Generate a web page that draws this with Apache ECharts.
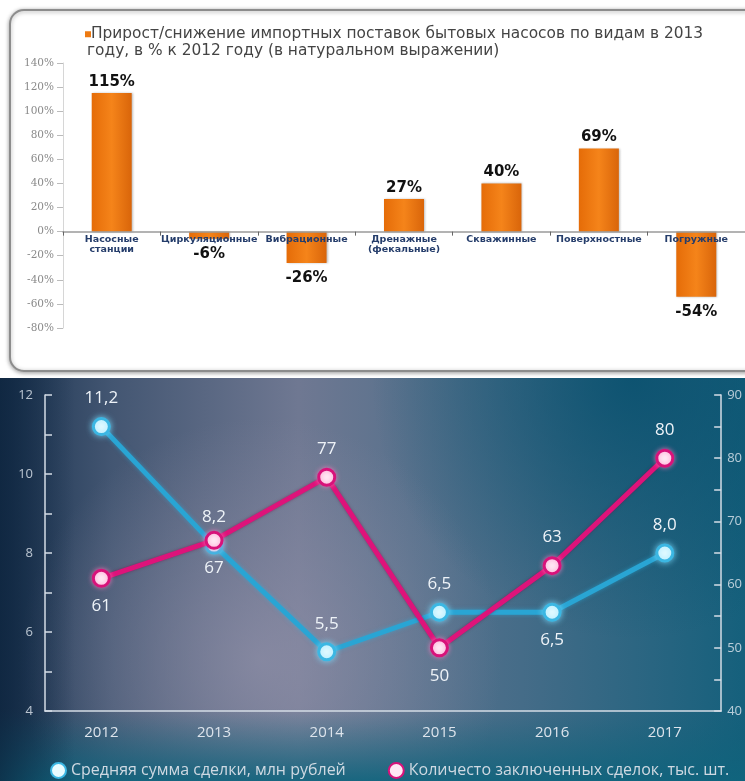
<!DOCTYPE html>
<html>
<head>
<meta charset="utf-8">
<script src="https://cdn.jsdelivr.net/npm/echarts@6/dist/echarts.min.js"></script>
<style>
  html, body { margin: 0; padding: 0; background: #fff; }
  #bar { position: absolute; left: 0; top: 0; width: 745px; height: 378px; }
  #line { position: absolute; left: 0; top: 378px; width: 745px; height: 403px; }
</style>
</head>
<body>
<div id="bar"></div>
<div id="line"></div>
<script>
// --- top chart data ---
var barTitle = 'Прирост/снижение импортных поставок бытовых насосов по видам в 2013\nгоду, в % к 2012 году (в натуральном выражении)';
var barCategories = ['Насосные\nстанции', 'Циркуляционные', 'Вибрационные', 'Дренажные\n(фекальные)', 'Скважинные', 'Поверхностные', 'Погружные'];
var barValues = [115, -6, -26, 27, 40, 69, -54];

// --- bottom chart data ---
var years = ['2012', '2013', '2014', '2015', '2016', '2017'];
var avgDealName = 'Средняя сумма сделки, млн рублей';
var avgDeal = [11.2, 8.2, 5.5, 6.5, 6.5, 8.0];
var dealCountName = 'Количесто заключенных сделок, тыс. шт.';
var dealCount = [61, 67, 77, 50, 63, 80];

// label placement (above/below point)
var avgDealPos = ['top', 'top', 'top', 'top', 'bottom', 'top'];
var dealCountPos = ['bottom', 'bottom', 'top', 'bottom', 'top', 'top'];

function initBar() {
  var myChart = echarts.init(document.getElementById('bar'));
  var option = {
    backgroundColor: '#fff',
    animation: false,
    graphic: [{
      type: 'rect',
      z: -10,
      shape: { x: 10, y: 10, width: 770, height: 361, r: 14 },
      style: { fill: '#fff', stroke: '#8c8c8c', lineWidth: 2, shadowBlur: 4, shadowColor: 'rgba(0,0,0,0.35)', shadowOffsetY: 1 }
    }],
    title: {
      left: 80,
      top: 21,
      text: '{sq|}' + barTitle.replace('\n', '\n{pad|}'),
      textStyle: {
        fontFamily: 'DejaVu Sans',
        fontSize: 15.4,
        fontWeight: 'normal',
        color: '#444',
        lineHeight: 16.5,
        rich: {
          sq: { width: 6, height: 6, backgroundColor: '#ee7a12', padding: 0 },
          pad: { width: 2 }
        }
      }
    },
    grid: { left: 63, top: 63, width: 691, height: 265 },
    xAxis: {
      type: 'category',
      data: barCategories,
      z: 5,
      axisLine: { onZero: true, lineStyle: { color: '#9a9a9a', width: 1.5 } },
      axisTick: { show: true, length: 4, lineStyle: { color: '#666' } },
      axisLabel: {
        interval: 0,
        margin: -93,
        fontFamily: 'DejaVu Sans',
        fontWeight: 'bold',
        fontSize: 9.5,
        lineHeight: 10,
        color: '#253d6b'
      }
    },
    yAxis: {
      type: 'value',
      min: -80,
      max: 140,
      interval: 20,
      splitLine: { show: false },
      axisLine: { show: true, lineStyle: { color: '#d6d6d6' } },
      axisTick: { show: true, length: 6, lineStyle: { color: '#bbb' } },
      axisLabel: {
        margin: 9,
        fontFamily: 'DejaVu Serif',
        fontSize: 10.5,
        color: '#8a8a8a',
        formatter: function (v) { return v + '%'; }
      }
    },
    series: [{
      name: 'bar',
      type: 'bar',
      barWidth: 40,
      itemStyle: {
        color: new echarts.graphic.LinearGradient(0, 0, 1, 0, [
          { offset: 0, color: '#e56c08' },
          { offset: 0.5, color: '#f5841a' },
          { offset: 1, color: '#d9650a' }
        ]),
        shadowBlur: 2,
        shadowColor: 'rgba(0,0,0,0.25)',
        shadowOffsetX: 1
      },
      data: barValues.map(function (v) {
        return {
          value: v,
          label: { position: v < 0 ? 'bottom' : 'top', distance: v < 0 ? 8 : 4 }
        };
      }),
      label: {
        show: true,
        fontFamily: 'DejaVu Sans',
        fontWeight: 'bold',
        fontSize: 15,
        color: '#111',
        formatter: function (p) { return p.value + '%'; }
      }
    }]
  };
  option && myChart.setOption(option);
}

function initLine() {
  var myChart = echarts.init(document.getElementById('line'));
  var W = 745, H = 403;
  var option = {
    animation: false,
    graphic: [
      {
        type: 'rect', z: -10, silent: true,
        shape: { x: 0, y: 0, width: W, height: H },
        style: {
          fill: new echarts.graphic.LinearGradient(0, 0, 1, 0, [
            { offset: 0, color: '#1a3350' },
            { offset: 0.15, color: '#435672' },
            { offset: 0.4, color: '#6f7892' },
            { offset: 0.7, color: '#456c88' },
            { offset: 1, color: '#15607c' }
          ])
        }
      },
      {
        type: 'rect', z: -9, silent: true,
        shape: { x: 0, y: 0, width: W, height: H },
        style: {
          fill: new echarts.graphic.RadialGradient(0.35, 0.7, 0.6, [
            { offset: 0, color: 'rgba(150,148,172,0.65)' },
            { offset: 1, color: 'rgba(150,148,172,0)' }
          ])
        }
      },
      {
        type: 'rect', z: -8, silent: true,
        shape: { x: 0, y: 0, width: W, height: H },
        style: {
          fill: new echarts.graphic.RadialGradient(0.85, 0.0, 0.65, [
            { offset: 0, color: 'rgba(8,80,110,0.85)' },
            { offset: 1, color: 'rgba(8,80,110,0)' }
          ])
        }
      },
      {
        type: 'rect', z: -7, silent: true,
        shape: { x: 0, y: 0, width: W, height: H },
        style: {
          fill: new echarts.graphic.LinearGradient(0, 0, 0, 1, [
            { offset: 0, color: 'rgba(15,95,120,0)' },
            { offset: 0.82, color: 'rgba(15,95,120,0)' },
            { offset: 1, color: 'rgba(15,100,125,0.9)' }
          ])
        }
      },
      {
        type: 'rect', z: -6, silent: true,
        shape: { x: 0, y: 0, width: W, height: H },
        style: {
          fill: new echarts.graphic.LinearGradient(0, 0, 1, 0, [
            { offset: 0, color: 'rgba(12,35,60,0.7)' },
            { offset: 0.1, color: 'rgba(12,35,60,0)' }
          ])
        }
      }
    ],
    legend: {
      top: 379,
      left: 45,
      itemGap: 42,
      itemWidth: 15,
      itemHeight: 15,
      icon: 'circle',
      textStyle: { color: '#cfd9e2', fontFamily: 'Open Sans', fontSize: 16 },
      data: [avgDealName, dealCountName]
    },
    grid: { left: 45, top: 17, width: 678, height: 316 },
    xAxis: {
      type: 'category',
      data: years,
      axisLine: { lineStyle: { color: '#d5dde6', width: 1.5 } },
      axisTick: { inside: true, length: 8, lineStyle: { color: '#d5dde6', width: 1.5 } },
      axisLabel: { margin: 14, color: '#dde4ec', fontFamily: 'Open Sans', fontSize: 15 }
    },
    yAxis: [
      {
        type: 'value',
        min: 4,
        max: 12,
        interval: 2,
        splitLine: { show: false },
        axisLine: { show: true, lineStyle: { color: '#d5dde6', width: 1.5 } },
        axisTick: { show: true, inside: true, length: 7, lineStyle: { color: '#d5dde6', width: 1.5 } },
        minorTick: { show: true, splitNumber: 2, length: 7, lineStyle: { color: '#d5dde6', width: 1.5 } },
        axisLabel: { margin: 12, color: 'rgba(225,232,240,0.8)', fontFamily: 'Open Sans', fontSize: 13 }
      },
      {
        type: 'value',
        min: 40,
        max: 90,
        interval: 10,
        position: 'right',
        splitLine: { show: false },
        axisLine: { show: true, lineStyle: { color: '#d5dde6', width: 1.5 } },
        axisTick: { show: true, inside: true, length: 7, lineStyle: { color: '#d5dde6', width: 1.5 } },
        minorTick: { show: true, splitNumber: 2, length: 7, lineStyle: { color: '#d5dde6', width: 1.5 } },
        axisLabel: { margin: 6, color: 'rgba(225,232,240,0.8)', fontFamily: 'Open Sans', fontSize: 13 }
      }
    ],
    series: [
      {
        name: avgDealName,
        type: 'line',
        yAxisIndex: 0,
        z: 3,
        symbol: 'circle',
        symbolSize: 16,
        lineStyle: { color: '#29a5d4', width: 5, shadowBlur: 4, shadowColor: 'rgba(40,180,230,0.5)' },
        itemStyle: { color: '#e9fcff', borderColor: '#3bb7e3', borderWidth: 3, shadowBlur: 6, shadowColor: 'rgba(120,220,255,0.8)' },
        label: {
          show: true,
          distance: 10,
          color: '#eef3f8',
          fontFamily: 'Open Sans',
          fontSize: 17,
          formatter: function (p) { return p.value.toFixed(1).replace('.', ','); }
        },
        data: avgDeal.map(function (v, i) { return { value: v, label: { position: avgDealPos[i] } }; })
      },
      {
        name: dealCountName,
        type: 'line',
        yAxisIndex: 1,
        z: 4,
        symbol: 'circle',
        symbolSize: 16,
        lineStyle: { color: '#de137a', width: 5, shadowBlur: 3, shadowColor: 'rgba(120,0,60,0.5)' },
        itemStyle: { color: '#ffe8f4', borderColor: '#d8127a', borderWidth: 3, shadowBlur: 5, shadowColor: 'rgba(255,120,190,0.7)' },
        label: {
          show: true,
          distance: 10,
          color: '#eef3f8',
          fontFamily: 'Open Sans',
          fontSize: 17
        },
        data: dealCount.map(function (v, i) { return { value: v, label: { position: dealCountPos[i] } }; })
      }
    ]
  };
  option && myChart.setOption(option);
}

initBar();
initLine();
</script>
</body>
</html>
